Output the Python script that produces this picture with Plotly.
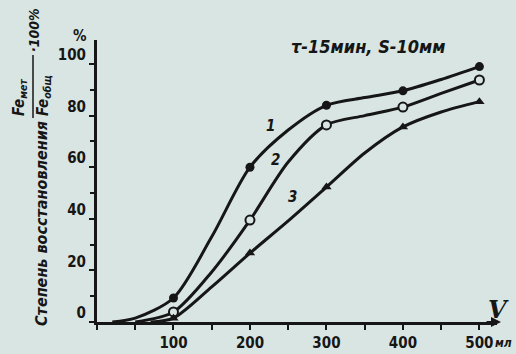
import plotly.graph_objects as go

# ---- Data ----
volumes = [100, 200, 300, 400, 500]          # V, мл (marker positions)
curve1 = [9.3, 60, 84, 89.6, 99]             # curve 1 (filled circles)
curve2 = [3.9, 39.5, 76.4, 83.3, 93.8]       # curve 2 (open circles)
curve3 = [1.5, 26.7, 52.3, 75.6, 85.4]       # curve 3 (triangles)

# drawn curves (incl. start on the axis)
line1_x = [20, 50, 100, 150, 200, 250, 300, 350, 400, 450, 500]
line1_y = [0, 1.5, 9.3, 33, 60, 74.4, 84, 87, 89.6, 94, 99]
line2_x = [50, 100, 150, 200, 250, 300, 350, 400, 450, 500]
line2_y = [0, 3.9, 19.4, 39.5, 62, 76.4, 80, 83.3, 88.6, 93.8]
line3_x = [70, 100, 150, 200, 250, 300, 350, 400, 450, 500]
line3_y = [0, 1.5, 13.6, 26.7, 39.2, 52.3, 65.5, 75.6, 81.4, 85.4]

x_ticks = [100, 200, 300, 400, 500]
x_ticktext = ["100", "200", "300", "400", "500"]
y_ticks = [0, 20, 40, 60, 80, 100]

INK = "#161616"
BG = "#d9e5e2"
TICKFONT = dict(family="Liberation Sans Narrow, DejaVu Sans Condensed", size=15, color=INK, weight="bold")
ITAL = dict(family="DejaVu Sans Condensed", color=INK, weight="bold", style="italic")

W, H = 516, 354
ML, MR, MT, MB = 97, 19, 40, 32

fig = go.Figure()

for lx, ly in [(line1_x, line1_y), (line2_x, line2_y), (line3_x, line3_y)]:
    fig.add_trace(go.Scatter(x=lx, y=ly, mode="lines",
                             line=dict(color=INK, width=3, shape="spline", smoothing=0.8),
                             hoverinfo="skip", showlegend=False))

fig.add_trace(go.Scatter(x=volumes, y=curve1, mode="markers",
                         marker=dict(symbol="circle", size=9, color=INK), showlegend=False))
fig.add_trace(go.Scatter(x=volumes, y=curve2, mode="markers",
                         marker=dict(symbol="circle", size=9, color=BG, line=dict(color=INK, width=2)),
                         showlegend=False))
fig.add_trace(go.Scatter(x=volumes, y=curve3, mode="markers",
                         marker=dict(symbol="triangle-up", size=9, color=INK), showlegend=False))

fig.update_xaxes(range=[0, 523], automargin=False, showgrid=False, zeroline=False, showline=True,
                 linecolor=INK, linewidth=3,
                 tickvals=x_ticks, ticktext=x_ticktext, ticks="outside", ticklen=5, tickwidth=2, tickcolor=INK,
                 minor=dict(dtick=50, tick0=0, ticks="outside", ticklen=5, tickwidth=2, tickcolor=INK),
                 tickfont=TICKFONT)
fig.update_yaxes(range=[0, 109.3], automargin=False, showgrid=False, zeroline=False, showline=True,
                 linecolor=INK, linewidth=3,
                 tickvals=y_ticks, ticks="outside", ticklen=5, tickwidth=2, tickcolor=INK,
                 ticklabelshift=-9,
                 minor=dict(dtick=10, tick0=0, ticks="outside", ticklen=4, tickwidth=2, tickcolor=INK),
                 tickfont=TICKFONT)


def px(xp, yp):
    return (xp - ML) / (W - ML - MR), (H - MB - yp) / (H - MT - MB)


def pix_text(xp, yp, text, size, angle=0, **kw):
    xx, yy = px(xp, yp)
    d = dict(x=xx, y=yy, xref="paper", yref="paper", text=text, textangle=angle, showarrow=False,
             xanchor="center", yanchor="middle", font=dict(ITAL, size=size))
    d.update(kw)
    return d


annotations = [
    pix_text(503, 343, "мл", 12, xanchor="left", xshift=-10),
    pix_text(499, 309, "V", 24, font=dict(family="DejaVu Serif", size=24, color=INK, style="italic", weight="bold")),
    pix_text(368, 46, "τ-15мин, S-10мм", 18),
    pix_text(270, 126, "1", 15),
    pix_text(275, 160, "2", 15),
    pix_text(292, 197, "3", 15),
    pix_text(80, 36, "%", 15, font=TICKFONT),
    # y-axis title (rotated)
    pix_text(41, 223, "Степень восстановления", 16, angle=-90),
    pix_text(19, 98, "Fe<sub>мет</sub>", 15, angle=-90),
    pix_text(44, 96, "Fe<sub>общ</sub>", 15, angle=-90),
    pix_text(34, 30, "·100%", 14, angle=-90),
]
fig.update_layout(annotations=annotations)

# fraction bar
b0x, b0y = px(33, 55)
b1x, b1y = px(33, 118)
fig.add_shape(type="line", xref="paper", yref="paper", x0=b0x, y0=b0y, x1=b1x, y1=b1y,
              line=dict(color=INK, width=1.5))
# arrow at end of x-axis
fig.add_annotation(x=1.01, y=0, xref="paper", yref="y", ax=-16, ay=0, axref="pixel", ayref="pixel",
                   text="", showarrow=True, arrowhead=2, arrowsize=1, arrowwidth=2, arrowcolor=INK)

fig.update_layout(width=W, height=H, margin=dict(l=ML, r=MR, t=MT, b=MB, autoexpand=False),
                  paper_bgcolor=BG, plot_bgcolor=BG)

fig.write_html("out.html", config={"displayModeBar": False},
               post_script="document.body.style.margin='0';document.body.style.overflow='hidden';"
                           "document.body.style.background='" + BG + "';")
